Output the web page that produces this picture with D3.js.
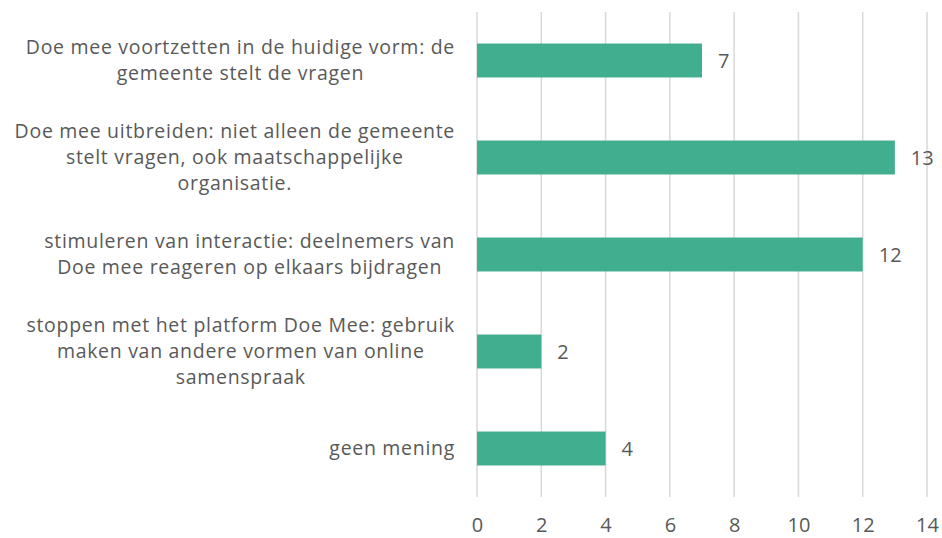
<!DOCTYPE html>
<html><head><meta charset="utf-8">
<script src="https://cdn.jsdelivr.net/npm/d3@7"></script>
<style>body{margin:0;background:#fff}svg{display:block}</style>
</head><body>
<svg id="c" width="942" height="538"></svg>
<script>
const categories = [
  ["Doe mee voortzetten in de huidige vorm: de", "gemeente stelt de vragen"],
  ["Doe mee uitbreiden: niet alleen de gemeente", "stelt vragen, ook maatschappelijke", "organisatie."],
  ["stimuleren van interactie: deelnemers van", "Doe mee reageren op elkaars bijdragen"],
  ["stoppen met het platform Doe Mee: gebruik", "maken van andere vormen van online", "samenspraak"],
  ["geen mening"]
];
const values = [7, 13, 12, 2, 4];
const xTicks = [0, 2, 4, 6, 8, 10, 12, 14];

const svg = d3.select("#c");
const font = "'Open Sans', sans-serif";
const textColor = "#595959";
const x = d3.scaleLinear().domain([0, 14]).range([477, 927]);
const y = d3.scaleBand().domain(d3.range(categories.length)).range([12, 497]).paddingInner(0.65).paddingOuter(0.325);

// gridlines
svg.append("g").selectAll("line").data(xTicks).join("line")
  .attr("x1", d => x(d)).attr("x2", d => x(d))
  .attr("y1", 12).attr("y2", 497)
  .attr("stroke", "#d9d9d9").attr("stroke-width", 1.5);

// x axis tick labels
const ax = svg.append("g").attr("transform", "translate(0,497)")
  .call(d3.axisBottom(x).tickValues(xTicks).tickSize(0).tickPadding(21));
ax.select(".domain").remove();
ax.selectAll("text").attr("font-family", font).attr("font-size", 20).attr("fill", textColor);

// bars
svg.append("g").selectAll("rect").data(values).join("rect")
  .attr("x", x(0)).attr("y", (d, i) => y(i))
  .attr("width", d => x(d) - x(0)).attr("height", y.bandwidth())
  .attr("fill", "#40ae8f");

// value labels
svg.append("g").selectAll("text").data(values).join("text")
  .attr("x", d => x(d) + 16).attr("y", (d, i) => y(i) + y.bandwidth() / 2)
  .attr("dy", "0.35em")
  .attr("font-family", font).attr("font-size", 20).attr("fill", textColor)
  .text(d => d);

// category labels: centered block, right edge at 455
const lineH = 26;
const lg = svg.append("g");
categories.forEach((lines, i) => {
  const cy = y(i) + y.bandwidth() / 2;
  const t = lg.append("text").attr("font-family", font).attr("font-size", 19.5)
    .attr("letter-spacing", 0.7)
    .attr("fill", textColor).attr("text-anchor", "middle");
  const ts = lines.map((l, k) => t.append("tspan").text(l)
    .attr("y", cy + (k - (lines.length - 1) / 2) * lineH).attr("dy", "0.35em"));
  const maxW = d3.max(ts, s => s.node().getComputedTextLength());
  ts.forEach(s => s.attr("x", 455 - maxW / 2));
});
</script>
</body></html>
